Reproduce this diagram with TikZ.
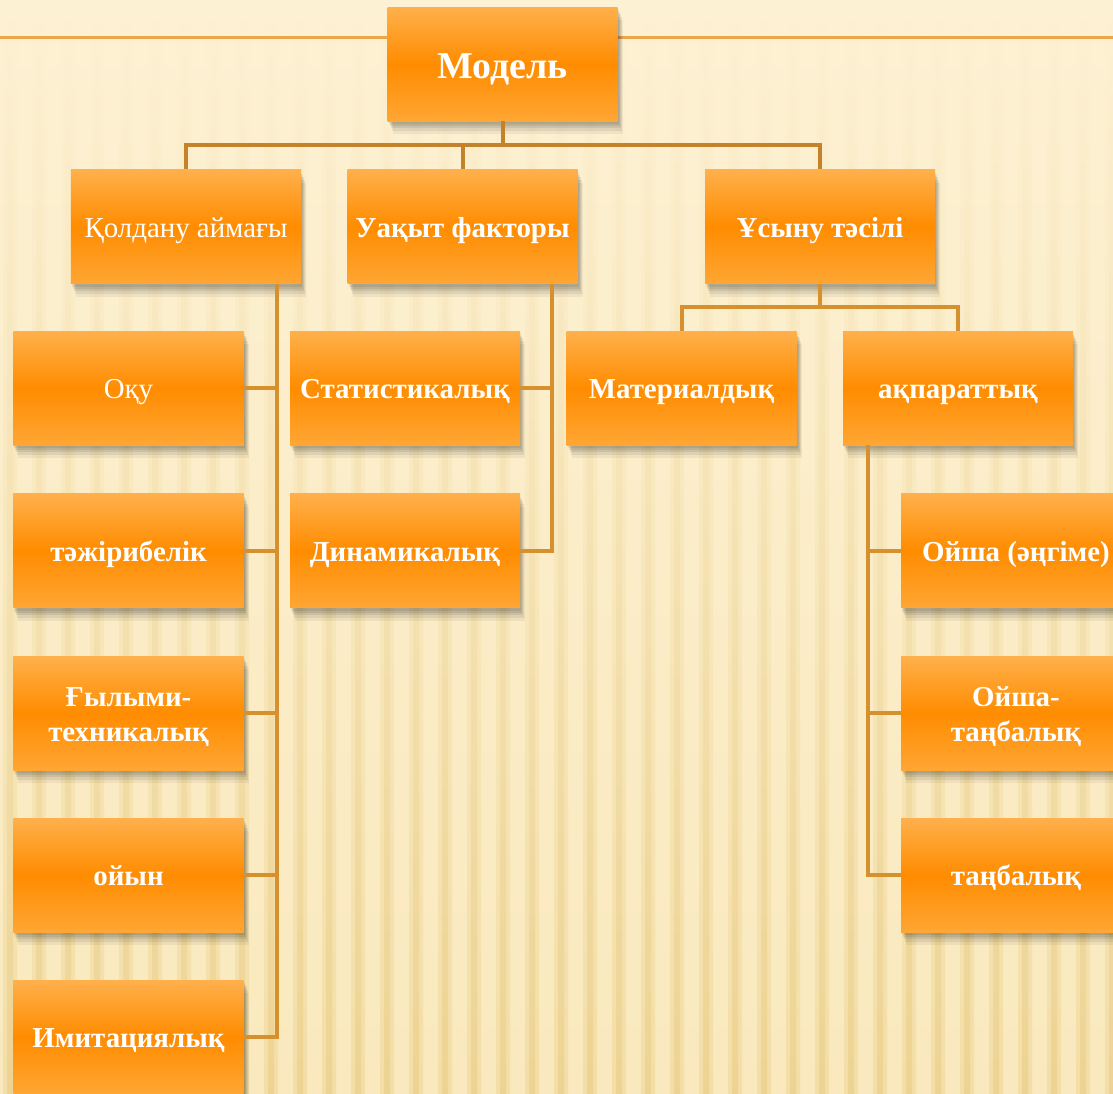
\documentclass[tikz,border=0pt]{standalone}
\usepackage{fontspec}
\setmainfont{Liberation Serif}
\usetikzlibrary{shadows}
\definecolor{bgA}{HTML}{FDF1D3}
\definecolor{bgB}{HTML}{FAE9BE}
\definecolor{stripeA}{HTML}{F3DEA6}
\definecolor{stripeB}{HTML}{EDD393}
\definecolor{boxtop}{HTML}{FFB04C}
\definecolor{boxmid}{HTML}{FF8C00}
\definecolor{boxbot}{HTML}{FFA634}
\definecolor{connc}{HTML}{D6902E}
\definecolor{conndark}{HTML}{C4822A}
\definecolor{toplinec}{HTML}{EBA54B}
\begin{document}
\begin{tikzpicture}[x=1bp,y=-1bp,
  box/.style={minimum width=230bp, minimum height=114bp, inner sep=0pt,
    top color=boxtop, bottom color=boxbot, middle color=boxmid,
    text=white, align=center, text height=27bp, text depth=6bp,
    font=\fontsize{29}{35}\selectfont\bfseries,
    general shadow={fill=black, opacity=0.07, shadow xshift=1bp, shadow yshift=-3bp},
    general shadow={fill=black, opacity=0.08, shadow xshift=2bp, shadow yshift=-5bp},
    general shadow={fill=black, opacity=0.08, shadow xshift=3bp, shadow yshift=-7bp},
    general shadow={fill=black, opacity=0.07, shadow xshift=4bp, shadow yshift=-10bp},
    general shadow={fill=black, opacity=0.05, shadow xshift=5bp, shadow yshift=-13bp}},
  plain/.style={font=\fontsize{29}{35}\selectfont},
  twol/.style={text height=62bp, text depth=6bp},
  conn/.style={draw=connc, line width=4bp, line join=miter},
  conntop/.style={draw=conndark, line width=4bp, line join=miter},
  topl/.style={draw=toplinec, line width=3bp}]
% background
\useasboundingbox (0,0) rectangle (1113,1094);
\begin{scope}
\clip (0,0) rectangle (1113,1094);
\shade[top color=bgA, bottom color=bgB] (0,0) rectangle (1113,1094);
\foreach \i in {0,...,38} {
  \shade[top color=bgA, bottom color=stripeA] (\i*29+3,0) rectangle ++(14,1094);
  \shade[top color=bgA, bottom color=stripeB] (\i*29+7,0) rectangle ++(6,1094);
}
\end{scope}
% coordinates
\coordinate (tl) at (0,37);
\coordinate (tr) at (1113,37);
\coordinate (bus1) at (0,145);
\coordinate (bus2) at (0,307);
\coordinate (kv) at (277,0);
\coordinate (uv) at (552,0);
\coordinate (av) at (868,0);
\draw[topl] (tl) -- (tr);
% nodes
\node[box, font=\fontsize{38}{44}\selectfont\bfseries, text height=34bp, text depth=6bp] (model) at (502.5,64) {Модель};
\node[box, plain] (kol) at (186,226.5) {Қолдану аймағы};
\node[box] (uak) at (462.5,226.5) {Уақыт факторы};
\node[box] (usy) at (820,226.5) {Ұсыну тәсілі};
\node[box, plain] (oku) at (128.5,388) {Оқу};
\node[box] (sta) at (405,388) {Статистикалық};
\node[box] (mat) at (681.5,388) {Материалдық};
\node[box] (akp) at (958,388) {ақпараттық};
\node[box] (taj) at (128.5,550.5) {тәжірибелік};
\node[box] (din) at (405,550.5) {Динамикалық};
\node[box, twol] (gyl) at (128.5,713) {Ғылыми-\\техникалық};
\node[box] (oin) at (128.5,875) {ойын};
\node[box] (imi) at (128.5,1037) {Имитациялық};
\node[box] (oi1) at (1016,550.5) {Ойша (әңгіме)};
\node[box, twol] (oi2) at (1016,713) {Ойша-\\таңбалық};
\node[box] (tan) at (1016,875) {таңбалық};
% connectors
\draw[conntop] (model.south) -- (model.south |- bus1) -| (kol.north);
\draw[conntop] (model.south |- bus1) -| (uak.north);
\draw[conntop] (model.south |- bus1) -| (usy.north);
\draw[conn] (kol.south -| kv) -- (imi.east -| kv) -- (imi.east);
\draw[conn] (oku.east) -- (oku.east -| kv);
\draw[conn] (taj.east) -- (taj.east -| kv);
\draw[conn] (gyl.east) -- (gyl.east -| kv);
\draw[conn] (oin.east) -- (oin.east -| kv);
\draw[conn] (uak.south -| uv) -- (din.east -| uv) -- (din.east);
\draw[conn] (sta.east) -- (sta.east -| uv);
\draw[conn] (usy.south) -- (usy.south |- bus2) -| (mat.north);
\draw[conn] (usy.south |- bus2) -| (akp.north);
\draw[conn] (akp.south -| av) -- (tan.west -| av) -- (tan.west);
\draw[conn] (oi1.west) -- (oi1.west -| av);
\draw[conn] (oi2.west) -- (oi2.west -| av);
\end{tikzpicture}
\end{document}
